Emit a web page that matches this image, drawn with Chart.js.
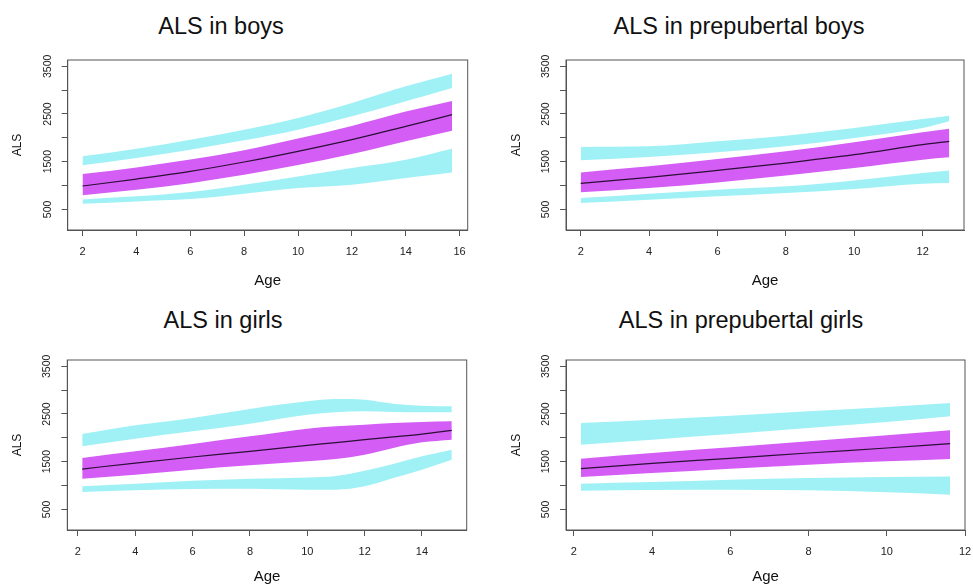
<!DOCTYPE html>
<html>
<head>
<meta charset="utf-8">
<script src="https://cdn.jsdelivr.net/npm/chart.js@4.4.1/dist/chart.umd.min.js"></script>
<style>
  body { margin: 0; background: #fff; width: 973px; height: 587px; overflow: hidden; position: relative;
         font-family: "Liberation Sans", Arial, sans-serif; }
  canvas { position: absolute; }
  .ttl { position: absolute; font-size: 23.5px; color: #111; transform: translate(-50%, -50%); white-space: nowrap; }
</style>
</head>
<body>
<div class="ttl" style="left:221px; top:26px">ALS in boys</div>
<div class="ttl" style="left:739px; top:26px">ALS in prepubertal boys</div>
<div class="ttl" style="left:223px; top:320px">ALS in girls</div>
<div class="ttl" style="left:741px; top:320px">ALS in prepubertal girls</div>

<canvas id="boys" width="486" height="293" style="left:0; top:0"></canvas>
<canvas id="preBoys" width="487" height="293" style="left:486px; top:0"></canvas>
<canvas id="girls" width="486" height="294" style="left:0; top:293px"></canvas>
<canvas id="preGirls" width="500" height="294" style="left:486px; top:293px"></canvas>

<script>
// ---- data (ALS by age, percentile bands) ----
const yTicks = [500, 1000, 1500, 2000, 2500, 3000, 3500];
const yLabels = [500, 1500, 2500, 3500];

// boys
const boysAge = [2, 4, 6, 8, 10, 12, 14, 15.72];
const boysP97 = [1612, 1773, 1962, 2171, 2416, 2731, 3080, 3346];
const boysP90 = [1423, 1577, 1752, 1948, 2171, 2451, 2766, 3045];
const boysP75 = [1241, 1380, 1545, 1740, 1985, 2250, 2550, 2770];
const boysP50 = [990, 1136, 1297, 1493, 1717, 1962, 2241, 2486];
const boysP25 = [794, 910, 1050, 1225, 1430, 1660, 1930, 2150];
const boysP10 = [710, 773, 864, 1017, 1192, 1367, 1542, 1773];
const boysP3 = [619, 668, 717, 829, 948, 1017, 1157, 1276];
const boysXTicks = [2, 4, 6, 8, 10, 12, 14, 16];

// prepubertal boys
const preBoysAge = [2, 4, 6, 8, 10, 12, 12.78];
const preBoysP97 = [1808, 1822, 1927, 2045, 2206, 2395, 2465];
const preBoysP90 = [1528, 1598, 1696, 1822, 1996, 2206, 2346];
const preBoysP75 = [1276, 1402, 1556, 1717, 1906, 2115, 2192];
const preBoysP50 = [1045, 1171, 1318, 1472, 1647, 1857, 1927];
const preBoysP25 = [857, 948, 1066, 1213, 1367, 1542, 1591];
const preBoysP10 = [738, 829, 913, 983, 1108, 1262, 1318];
const preBoysP3 = [633, 703, 773, 843, 927, 1038, 1052];
const preBoysXTicks = [2, 4, 6, 8, 10, 12];

// girls
const girlsAge = [2.15, 4, 6, 8, 10, 11, 12, 13, 14, 15.04];
const girlsP97 = [2080, 2262, 2416, 2605, 2766, 2815, 2801, 2717, 2675, 2661];
const girlsP90 = [1822, 1983, 2136, 2297, 2486, 2535, 2556, 2542, 2535, 2535];
const girlsP75 = [1577, 1717, 1871, 2031, 2192, 2241, 2276, 2311, 2332, 2346];
const girlsP50 = [1346, 1472, 1598, 1717, 1843, 1900, 1962, 2020, 2080, 2157];
const girlsP25 = [1143, 1227, 1332, 1423, 1507, 1556, 1647, 1787, 1906, 1962];
const girlsP10 = [983, 1038, 1101, 1143, 1171, 1200, 1311, 1451, 1612, 1752];
const girlsP3 = [864, 899, 927, 934, 913, 913, 983, 1157, 1332, 1542];
const girlsXTicks = [2, 4, 6, 8, 10, 12, 14];

// prepubertal girls
const preGirlsAge = [2.18, 4, 6, 8, 10, 11.62];
const preGirlsP97 = [2311, 2381, 2465, 2556, 2647, 2731];
const preGirlsP90 = [1857, 1962, 2080, 2206, 2332, 2451];
const preGirlsP75 = [1563, 1682, 1801, 1927, 2052, 2157];
const preGirlsP50 = [1353, 1465, 1570, 1682, 1787, 1878];
const preGirlsP25 = [1178, 1262, 1353, 1437, 1507, 1556];
const preGirlsP10 = [1038, 1073, 1122, 1157, 1178, 1192];
const preGirlsP3 = [892, 906, 913, 899, 857, 808];
const preGirlsXTicks = [2, 4, 6, 8, 10, 12];

const CYAN = "#9ff1f6";
const MAGENTA = "#d45df5";
const AXIS = "#555";

Chart.defaults.font.family = '"Liberation Sans", Arial, sans-serif';
Chart.defaults.color = "#222";

// box around the plot + rotated y tick labels (R style)
const rStyle = {
  id: "rStyle",
  afterDraw(chart) {
    const ctx = chart.ctx;
    const a = chart.chartArea;
    const y = chart.scales.y;
    ctx.save();
    ctx.strokeStyle = AXIS;
    ctx.lineWidth = 1;
    ctx.strokeRect(a.left, a.top, a.right - a.left, a.bottom - a.top);
    ctx.font = '10.5px "Liberation Sans", Arial, sans-serif';
    ctx.fillStyle = "#222";
    ctx.textAlign = "center";
    ctx.textBaseline = "middle";
    yLabels.forEach((v) => {
      ctx.save();
      ctx.translate(a.left - 20, y.getPixelForValue(v));
      ctx.rotate(-Math.PI / 2);
      ctx.fillText(String(v), 0, 0);
      ctx.restore();
    });
    ctx.restore();
  },
};

function pts(xs, ys) {
  return xs.map((x, i) => ({ x: x, y: ys[i] }));
}

function band(xs, ys, color, fill) {
  return {
    data: pts(xs, ys),
    borderWidth: 0,
    pointRadius: 0,
    backgroundColor: color,
    fill: fill,
    cubicInterpolationMode: "monotone",
  };
}

// area = plot box inside the canvas
function makePanel(id, age, p3, p10, p25, p50, p75, p90, p97, xMin, xMax, xTicks, area) {
  const cv = document.getElementById(id);
  const W = cv.width, H = cv.height;
  new Chart(cv, {
    type: "line",
    data: {
      datasets: [
        band(age, p97, CYAN, "+1"),
        band(age, p90, CYAN, false),
        band(age, p75, MAGENTA, "+1"),
        band(age, p25, MAGENTA, false),
        band(age, p10, CYAN, "+1"),
        band(age, p3, CYAN, false),
        {
          data: pts(age, p50),
          order: -1, // draw the median on top of the bands
          borderColor: "#2b0f35",
          borderWidth: 1.2,
          pointRadius: 0,
          fill: false,
          cubicInterpolationMode: "monotone",
        },
      ],
    },
    options: {
      responsive: false,
      animation: false,
      layout: { padding: { top: area.top, right: W - area.right, left: 0, bottom: 0 } },
      plugins: { legend: { display: false }, tooltip: { enabled: false } },
      scales: {
        x: {
          type: "linear",
          min: xMin,
          max: xMax,
          afterBuildTicks: (s) => { s.ticks = xTicks.map((v) => ({ value: v })); },
          afterFit: (s) => { s.height = H - area.bottom; },
          grid: { drawOnChartArea: false, drawTicks: true, tickLength: 6, color: AXIS },
          border: { display: true, color: AXIS },
          ticks: { padding: 9, font: { size: 11 }, maxRotation: 0, color: "#222" },
          title: { display: true, text: "Age", font: { size: 15 }, color: "#111",
                   padding: { top: 0, bottom: area.ageGap } },
        },
        y: {
          min: 68,
          max: 3632,
          afterBuildTicks: (s) => { s.ticks = yTicks.map((v) => ({ value: v })); },
          afterFit: (s) => { s.width = area.left; },
          grid: { drawOnChartArea: false, drawTicks: true, tickLength: 6, color: AXIS },
          border: { display: true, color: AXIS },
          ticks: { display: false },
          title: { display: true, text: "ALS", font: { size: 12 }, color: "#111",
                   padding: { top: area.left - 57, bottom: 0 } },
        },
      },
    },
    plugins: [rStyle],
  });
}

makePanel("boys", boysAge, boysP3, boysP10, boysP25, boysP50, boysP75, boysP90, boysP97,
  1.45, 16.3, boysXTicks, { left: 67.7, right: 467.7, top: 60, bottom: 230, ageGap: 3.5 });
makePanel("preBoys", preBoysAge, preBoysP3, preBoysP10, preBoysP25, preBoysP50, preBoysP75, preBoysP90, preBoysP97,
  1.57, 13.21, preBoysXTicks, { left: 80, right: 478, top: 60, bottom: 230, ageGap: 3.5 });
makePanel("girls", girlsAge, girlsP3, girlsP10, girlsP25, girlsP50, girlsP75, girlsP90, girlsP97,
  1.63, 15.56, girlsXTicks, { left: 67.3, right: 466.7, top: 67, bottom: 237, ageGap: 0.7 });
makePanel("preGirls", preGirlsAge, preGirlsP3, preGirlsP10, preGirlsP25, preGirlsP50, preGirlsP75, preGirlsP90, preGirlsP97,
  1.80, 12.0, preGirlsXTicks, { left: 80, right: 479, top: 67, bottom: 237, ageGap: 0.7 });
</script>
</body>
</html>
